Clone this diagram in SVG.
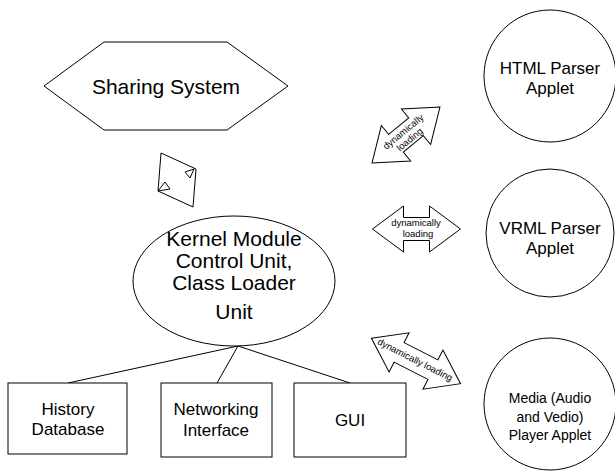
<svg xmlns="http://www.w3.org/2000/svg" width="615" height="471" viewBox="0 0 615 471">
<style>
.s{fill:#fff;stroke:#000;stroke-width:1}
.l{fill:none;stroke:#000;stroke-width:1}
text{font-family:"Liberation Sans",Arial,sans-serif;fill:#000;text-anchor:middle}
.big{font-size:21px}
.mid{font-size:17px}
.sm{font-size:14px}
.tiny{font-size:9.5px}
</style>
<defs>
<path id="dbl88" d="M-44,0 L-13,-23 L-13,-11.5 L13,-11.5 L13,-23 L44,0 L13,23 L13,11.5 L-13,11.5 L-13,23 Z"/>
<path id="dbl100" d="M-50,0 L-19,-22 L-19,-11 L19,-11 L19,-22 L50,0 L19,22 L19,11 L-19,11 L-19,22 Z"/>
</defs>
<rect width="615" height="471" fill="#fff"/>
<g id="connectors">
<line class="l" x1="238" y1="346" x2="68" y2="383"/>
<line class="l" x1="238" y1="346" x2="217" y2="383"/>
<line class="l" x1="238" y1="346" x2="350" y2="383"/>
<g id="sharing-link">
<path class="s" d="M161,153 L196,169 L193,207 L158,191 Z"/>
<path class="s" d="M185,172 L194,169 L190,178 Z"/>
<path class="s" d="M158,191 L165,182 L170,189 Z"/>
</g>
<g id="arrow-html">
<use href="#dbl88" class="s" transform="translate(406,135) rotate(-39.5)"/>
<text class="tiny" transform="translate(406,135) rotate(-39.5)"><tspan x="0" y="-1">dynamically</tspan><tspan x="0" y="9">loading</tspan></text>
</g>
<g id="arrow-vrml">
<use href="#dbl88" class="s" transform="translate(416.5,229)"/>
<text class="tiny"><tspan x="416" y="226">dynamically</tspan><tspan x="418" y="237">loading</tspan></text>
</g>
<g id="arrow-media">
<use href="#dbl100" class="s" transform="translate(416,361) rotate(27)"/>
<text class="tiny" transform="translate(415,360) rotate(27)" x="0" y="3">dynamically loading</text>
</g>
</g>
<g id="sharing-system">
<path class="s" d="M104,42 L227,42 L288,86 L227,130 L104,130 L44,86 Z"/>
<text class="big" x="166" y="94">Sharing System</text>
</g>
<g id="kernel">
<ellipse class="s" cx="234" cy="281" rx="101" ry="65"/>
<text class="big"><tspan x="234" y="246">Kernel Module</tspan><tspan x="234" y="268">Control Unit,</tspan><tspan x="234" y="290">Class Loader</tspan><tspan x="234" y="319">Unit</tspan></text>
</g>
<g id="history">
<rect class="s" x="8" y="383" width="119" height="71"/>
<text class="mid"><tspan x="68" y="415">History</tspan><tspan x="68" y="435">Database</tspan></text>
</g>
<g id="networking">
<rect class="s" x="161" y="383" width="111" height="74"/>
<text class="mid"><tspan x="216" y="415">Networking</tspan><tspan x="216" y="436">Interface</tspan></text>
</g>
<g id="gui">
<rect class="s" x="294" y="383" width="112" height="74"/>
<text class="mid" x="350" y="426">GUI</text>
</g>
<g id="html-parser">
<circle class="s" cx="550" cy="76" r="66"/>
<text class="mid"><tspan x="550" y="74">HTML Parser</tspan><tspan x="550" y="94">Applet</tspan></text>
</g>
<g id="vrml-parser">
<circle class="s" cx="550" cy="233" r="64"/>
<text class="mid"><tspan x="550" y="234">VRML Parser</tspan><tspan x="550" y="254">Applet</tspan></text>
</g>
<g id="media-player">
<circle class="s" cx="550" cy="404" r="66"/>
<text class="sm"><tspan x="550" y="403">Media (Audio</tspan><tspan x="550" y="422">and Vedio)</tspan><tspan x="550" y="440">Player Applet</tspan></text>
</g>
</svg>
